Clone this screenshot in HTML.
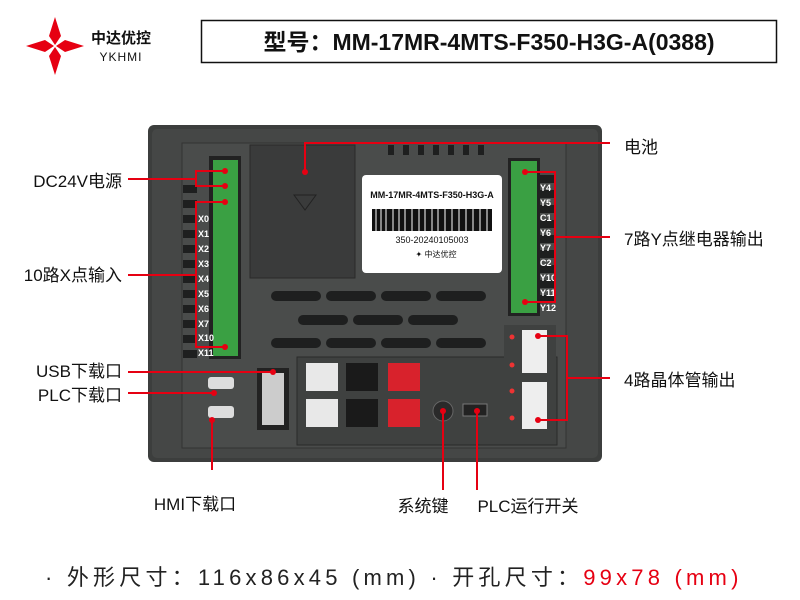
<!DOCTYPE html>
<html><head><meta charset="utf-8"><style>
body{margin:0;width:800px;height:600px;background:#fff;overflow:hidden;font-family:"Liberation Sans","Noto Sans CJK SC",sans-serif;}
</style></head><body>
<svg width="800" height="600" xmlns="http://www.w3.org/2000/svg" style="position:absolute;left:0;top:0" font-family="Liberation Sans, Noto Sans CJK SC, sans-serif">
<!-- logo -->
<g fill="#e60012">
<polygon points="55,17 61,36 55,45 49,36"/>
<polygon points="55,75 61,56 55,47 49,56"/>
<polygon points="26,46 45,40 54,46 45,52"/>
<polygon points="84,46 65,40 56,46 65,52"/>
</g>
<text x="121" y="43" font-size="15" font-weight="bold" text-anchor="middle" fill="#111">中达优控</text>
<text x="121" y="61" font-size="12" text-anchor="middle" fill="#111" letter-spacing="1">YKHMI</text>
<rect x="201.5" y="20.5" width="575" height="42" fill="#fff" stroke="#111" stroke-width="1.5"/>
<text x="489" y="50" font-size="23" font-weight="bold" text-anchor="middle" fill="#111">型号：MM-17MR-4MTS-F350-H3G-A(0388)</text>

<!-- device -->
<rect x="148" y="125" width="454" height="337" rx="6" fill="#3c3e3d"/>
<rect x="152" y="129" width="446" height="329" rx="5" fill="#454746"/>
<rect x="182" y="143" width="384" height="305" fill="#4a4c4b" stroke="#333" />
<g fill="#1e1f1f">
<rect x="183" y="185" width="14" height="8"/><rect x="183" y="200" width="14" height="8"/><rect x="183" y="215" width="14" height="8"/><rect x="183" y="230" width="14" height="8"/><rect x="183" y="245" width="14" height="8"/><rect x="183" y="260" width="14" height="8"/><rect x="183" y="275" width="14" height="8"/><rect x="183" y="290" width="14" height="8"/><rect x="183" y="305" width="14" height="8"/><rect x="183" y="320" width="14" height="8"/><rect x="183" y="335" width="14" height="8"/><rect x="183" y="350" width="14" height="8"/>
<rect x="540" y="175" width="15" height="8"/><rect x="540" y="190" width="15" height="8"/><rect x="540" y="205" width="15" height="8"/><rect x="540" y="220" width="15" height="8"/><rect x="540" y="235" width="15" height="8"/><rect x="540" y="250" width="15" height="8"/><rect x="540" y="265" width="15" height="8"/><rect x="540" y="280" width="15" height="8"/><rect x="540" y="295" width="15" height="8"/>
<rect x="388" y="145" width="6" height="10"/><rect x="403" y="145" width="6" height="10"/><rect x="418" y="145" width="6" height="10"/><rect x="433" y="145" width="6" height="10"/><rect x="448" y="145" width="6" height="10"/><rect x="463" y="145" width="6" height="10"/><rect x="478" y="145" width="6" height="10"/>
<rect x="271" y="291" width="50" height="10" rx="5"/><rect x="326" y="291" width="50" height="10" rx="5"/><rect x="381" y="291" width="50" height="10" rx="5"/><rect x="436" y="291" width="50" height="10" rx="5"/>
<rect x="298" y="315" width="50" height="10" rx="5"/><rect x="353" y="315" width="50" height="10" rx="5"/><rect x="408" y="315" width="50" height="10" rx="5"/>
<rect x="271" y="338" width="50" height="10" rx="5"/><rect x="326" y="338" width="50" height="10" rx="5"/><rect x="381" y="338" width="50" height="10" rx="5"/><rect x="436" y="338" width="50" height="10" rx="5"/>
</g>
<rect x="209" y="156" width="32" height="203" fill="#222"/>
<rect x="213" y="160" width="25" height="196" fill="#3aa043"/>
<rect x="508" y="158" width="32" height="158" fill="#222"/>
<rect x="511" y="161" width="26" height="152" fill="#3aa043"/>
<g fill="#fff" font-size="9" font-weight="bold">
<text x="198" y="222">X0</text><text x="198" y="237">X1</text><text x="198" y="252">X2</text><text x="198" y="267">X3</text><text x="198" y="282">X4</text><text x="198" y="297">X5</text><text x="198" y="312">X6</text><text x="198" y="327">X7</text><text x="198" y="341">X10</text><text x="198" y="356">X11</text>
<text x="540" y="191">Y4</text><text x="540" y="206">Y5</text><text x="540" y="221">C1</text><text x="540" y="236">Y6</text><text x="540" y="251">Y7</text><text x="540" y="266">C2</text><text x="540" y="281">Y10</text><text x="540" y="296">Y11</text><text x="540" y="311">Y12</text>
</g>
<rect x="250" y="145" width="105" height="133" fill="#3a3b3b" stroke="#2a2a2a"/>
<polygon points="294,195 316,195 305,210" fill="none" stroke="#222"/>
<rect x="362" y="175" width="140" height="98" rx="4" fill="#fff"/>
<text x="432" y="198" font-size="9" font-weight="bold" text-anchor="middle" fill="#111">MM-17MR-4MTS-F350-H3G-A</text>
<rect x="372" y="209" width="120" height="22" fill="#111"/>
<g stroke="#fff" stroke-width="1"><line x1="376" y1="209" x2="376" y2="231"/><line x1="381" y1="209" x2="381" y2="231"/><line x1="386" y1="209" x2="386" y2="231"/><line x1="393" y1="209" x2="393" y2="231"/><line x1="399" y1="209" x2="399" y2="231"/><line x1="405" y1="209" x2="405" y2="231"/><line x1="412" y1="209" x2="412" y2="231"/><line x1="419" y1="209" x2="419" y2="231"/><line x1="425" y1="209" x2="425" y2="231"/><line x1="432" y1="209" x2="432" y2="231"/><line x1="438" y1="209" x2="438" y2="231"/><line x1="445" y1="209" x2="445" y2="231"/><line x1="452" y1="209" x2="452" y2="231"/><line x1="459" y1="209" x2="459" y2="231"/><line x1="466" y1="209" x2="466" y2="231"/><line x1="473" y1="209" x2="473" y2="231"/><line x1="480" y1="209" x2="480" y2="231"/><line x1="487" y1="209" x2="487" y2="231"/></g>
<text x="432" y="243" font-size="9" text-anchor="middle" fill="#111">350-20240105003</text>
<text x="436" y="257" font-size="8" text-anchor="middle" fill="#111">✦ 中达优控</text>
<rect x="297" y="357" width="260" height="88" fill="#3f4140" stroke="#2a2a2a"/>
<rect x="504" y="325" width="52" height="110" fill="#3f4140"/>
<rect x="306" y="363" width="32" height="28" fill="#e8e8e8"/><rect x="346" y="363" width="32" height="28" fill="#1a1a1a"/><rect x="388" y="363" width="32" height="28" fill="#d8222c"/>
<rect x="306" y="399" width="32" height="28" fill="#e8e8e8"/><rect x="346" y="399" width="32" height="28" fill="#1a1a1a"/><rect x="388" y="399" width="32" height="28" fill="#d8222c"/>
<circle cx="443" cy="411" r="10" fill="#2a2a2a" stroke="#666"/>
<rect x="463" y="404" width="24" height="12" fill="#222" stroke="#777"/>
<rect x="522" y="330" width="25" height="43" fill="#eee"/><rect x="522" y="382" width="25" height="47" fill="#eee"/>
<rect x="257" y="368" width="32" height="62" fill="#222"/><rect x="262" y="373" width="22" height="52" fill="#ccc"/>
<rect x="208" y="377" width="26" height="12" rx="3" fill="#ddd"/><rect x="208" y="406" width="26" height="12" rx="3" fill="#ddd"/>
<g fill="#e33" ><circle cx="512" cy="337" r="2.5"/><circle cx="512" cy="365" r="2.5"/><circle cx="512" cy="391" r="2.5"/><circle cx="512" cy="418" r="2.5"/></g>

<g stroke="#e60012" stroke-width="2" fill="none">
<polyline points="128,179 196,179"/><polyline points="225,171 196,171 196,186 225,186"/>
<polyline points="128,275 196,275"/><polyline points="225,202 196,202 196,347 225,347"/>
<polyline points="128,372 273,372"/>
<polyline points="128,393 214,393"/>
<polyline points="212,420 212,470"/>
<polyline points="443,411 443,490"/>
<polyline points="477,411 477,490"/>
<polyline points="305,172 305,143 610,143"/>
<polyline points="525,172 555,172 555,302 525,302"/><polyline points="555,237 610,237"/>
<polyline points="538,336 567,336 567,420 538,420"/><polyline points="567,378 610,378"/>
</g>
<g fill="#e60012"><circle cx="225" cy="171" r="3"/><circle cx="225" cy="186" r="3"/><circle cx="225" cy="202" r="3"/><circle cx="225" cy="347" r="3"/><circle cx="273" cy="372" r="3"/><circle cx="214" cy="393" r="3"/><circle cx="305" cy="172" r="3"/><circle cx="525" cy="172" r="3"/><circle cx="525" cy="302" r="3"/><circle cx="538" cy="336" r="3"/><circle cx="538" cy="420" r="3"/><circle cx="443" cy="411" r="3"/><circle cx="477" cy="411" r="3"/><circle cx="212" cy="420" r="3"/></g>

<g font-size="17" fill="#111">
<text x="122" y="187" text-anchor="end">DC24V电源</text>
<text x="122" y="281" text-anchor="end">10路X点输入</text>
<text x="122" y="377" text-anchor="end">USB下载口</text>
<text x="122" y="401" text-anchor="end">PLC下载口</text>
<text x="624" y="153">电池</text>
<text x="624" y="245">7路Y点继电器输出</text>
<text x="624" y="386">4路晶体管输出</text>
<text x="195" y="510" text-anchor="middle">HMI下载口</text>
<text x="423" y="512" text-anchor="middle">系统键</text>
<text x="528" y="512" text-anchor="middle">PLC运行开关</text>
</g>
<text x="45" y="585" font-size="22" fill="#222" letter-spacing="4.2">· 外形尺寸：116x86x45 (mm) · 开孔尺寸：<tspan fill="#e60012">99x78 (mm)</tspan></text>
</svg>
</body></html>
